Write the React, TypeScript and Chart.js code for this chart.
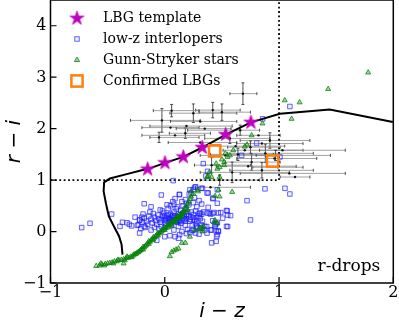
import React, { useEffect, useRef } from 'react';
import { Chart, registerables } from 'chart.js';

Chart.register(...registerables);

// ---------------- data ----------------
const xTicks = [-1, 0, 1, 2];
const yTicks = [-1, 0, 1, 2, 3, 4];

const legendLabels = ['LBG template', 'low-z interlopers', 'Gunn-Stryker stars', 'Confirmed LBGs'];

// LBG template (stars)
const templateX = [-0.15, 0.002, 0.162, 0.328, 0.533, 0.754];
const templateY = [1.213, 1.335, 1.451, 1.633, 1.884, 2.122];

// LBG template track (solid black curve)
const trackX = [-0.370, -0.378, -0.40, -0.44, -0.49, -0.515, -0.535, -0.531, -0.48, -0.333, -0.202, -0.15, 0.002, 0.162, 0.328, 0.533, 0.754, 1.007, 1.444, 1.996];
const trackY = [-0.45, -0.25, -0.09, 0.08, 0.30, 0.55, 0.78, 0.955, 1.03, 1.116, 1.193, 1.213, 1.335, 1.451, 1.633, 1.884, 2.122, 2.29, 2.37, 2.13];

// Selection box (dotted)
const cutHX = [-1, 1];
const cutHY = [1, 1];
const cutVX = [1, 1];
const cutVY = [1, 4.5];

// Confirmed LBGs
const lbgX = [0.437, 0.944];
const lbgY = [1.567, 1.367];

// Candidates with error bars
const candX = [0.684, -0.025, 0.25, 0.42, 0.50, 0.19, 0.05, 0.18, 0.31, -0.05, 0.09, 0.31, 0.66, 0.82, 0.92, 0.85, 0.75, 0.70, 0.88, 0.96, 0.76, 0.99, 0.85, 1.09, 1.14, 0.57, 0.53, 0.41, 0.59, 0.48, 1.03, 0.35, 0.06, 0.40, 0.64, 0.73, 0.62, 0.97];
const candY = [2.68, 2.16, 2.30, 2.36, 2.32, 2.05, 2.02, 1.91, 1.73, 1.83, 1.87, 2.14, 1.97, 1.87, 1.77, 1.71, 1.64, 1.58, 1.52, 1.42, 1.35, 1.25, 1.19, 1.13, 1.06, 1.81, 1.48, 1.29, 1.15, 1.00, 1.58, 2.00, 2.35, 0.86, 1.50, 1.27, 1.66, 1.48];
const candXLo = [0.570, -0.30, 0.045, 0.27, 0.30, -0.13, -0.20, 0.04, 0.03, -0.13, -0.20, 0.05, 0.20, 0.63, 0.66, 0.63, 0.55, 0.51, 0.55, 0.63, 0.53, 0.77, 0.57, 0.66, 1.01, 0.35, 0.31, 0.26, 0.31, 0.31, 0.83, 0.10, -0.10, 0.27, 0.40, 0.45, 0.38, 0.80];
const candXHi = [0.806, 0.31, 0.63, 0.66, 0.75, 0.59, 0.30, 0.40, 0.63, 0.30, 0.35, 0.63, 0.83, 1.01, 1.27, 1.21, 1.01, 1.21, 1.30, 1.33, 1.01, 1.21, 1.30, 1.58, 1.27, 0.92, 0.88, 0.75, 1.09, 0.83, 1.58, 0.58, 0.30, 0.75, 0.95, 1.15, 1.05, 1.45];
const candYErr = [0.21, 0.23, 0.18, 0.15, 0.16, 0, 0, 0.10, 0, 0.10, 0, 0, 0.10, 0, 0.15, 0, 0.12, 0, 0.18, 0, 0.16, 0, 0.15, 0, 0, 0.10, 0, 0.15, 0.20, 0.10, 0, 0, 0.12, 0, 0.12, 0, 0, 0.10];

// low-z interlopers [i-z, r-i]
const interlopers: [number, number][] = [
  [-0.727, 0.077], [-0.654, 0.16], [-0.465, 0.34], [-0.392, 0.10], [-0.37, 0.18], [-0.33, 0.17], [-0.31, 0.14], [-0.26, 0.28], [-0.29, 0.11], [-0.22, 0.23], [-0.23, 0.13], [-0.18, 0.10], [-0.20, 0.18],
  [0.074, 0.99], [0.337, 1.32], [0.375, 1.17], [0.36, 1.08], [0.264, 0.86], [0.33, 0.84], [0.38, 0.75], [0.425, 0.65], [0.877, 0.83], [1.052, 0.84], [1.095, 0.73], [0.72, 0.60], [0.75, 0.226], [0.804, 1.72], [0.673, 1.48], [0.857, 2.19], [1.095, 2.43], [1.008, 1.45],
  [0.323, 0.535], [0.323, 0.337], [0.40, 0.34], [0.42, 0.35], [0.468, 0.36], [0.49, 0.37], [0.547, 0.40], [0.576, 0.31], [0.507, 0.26], [0.42, 0.21], [0.45, 0.15], [0.46, 0.18], [0.367, 0.097], [0.468, 0.013], [0.454, -0.097], [0.41, -0.22], [0.55, 0.097], [0.54, 0.41], [0.55, 0.32], [0.54, 0.10], [0.41, 0.03], [0.45, 0.01], [0.44, 0.13],
  [0.33, 0.20], [0.35, 0.03], [0.30, -0.05], [0.38, 0.47], [0.46, 0.55], [0.42, 0.64],
  [-0.03, 0.71], [0.127, 0.72], [0.214, 0.73], [0.23, 0.75], [0.25, 0.82], [0.32, 0.84], [0.37, 0.75], [0.46, 0.81], [0.09, 0.64], [0.18, 0.62], [0.26, 0.66], [0.30, 0.60], [0.27, 0.87], [0.22, 0.81], [0.13, 0.72],
  [-0.18, 0.54], [-0.12, 0.48], [-0.04, 0.42], [0.02, 0.52], [0.05, 0.50], [0.08, 0.53], [0.11, 0.48], [0.07, 0.58], [0.15, 0.58], [0.16, 0.50], [0.19, 0.55], [0.21, 0.52], [0.25, 0.56], [0.28, 0.48], [0.27, 0.40], [0.23, 0.38], [0.30, 0.35], [0.34, 0.38], [0.39, 0.36], [0.43, 0.37], [0.31, 0.36], [0.37, 0.36],
  [-0.22, 0.22], [-0.20, 0.28], [-0.18, 0.26], [-0.16, 0.20], [-0.15, 0.14], [-0.14, 0.30], [-0.12, 0.24], [-0.11, 0.17], [-0.10, 0.35], [-0.09, 0.28], [-0.08, 0.21], [-0.07, 0.14], [-0.06, 0.32], [-0.05, 0.25], [-0.04, 0.18], [-0.03, 0.10], [-0.02, 0.29], [-0.01, 0.36], [0.00, 0.22], [0.01, 0.15], [0.02, 0.31], [0.03, 0.26], [0.04, 0.19], [0.05, 0.34], [0.06, 0.28], [0.07, 0.22], [0.08, 0.38], [0.09, 0.31], [0.10, 0.25], [0.11, 0.18], [0.12, 0.34], [0.13, 0.28], [0.14, 0.41], [0.15, 0.22], [0.16, 0.36], [0.17, 0.30], [0.18, 0.44], [0.19, 0.25], [0.20, 0.38], [0.21, 0.31], [0.22, 0.20], [0.23, 0.28], [0.24, 0.13], [0.25, 0.33], [0.26, 0.22], [0.27, 0.15], [0.28, 0.27], [0.29, 0.08], [0.31, 0.25], [0.32, 0.13],
  [-0.05, 0.05], [0.00, 0.08], [0.06, 0.12], [0.12, 0.10], [0.18, 0.12], [0.20, 0.04], [0.15, 0.00], [0.08, 0.03], [0.24, 0.02], [0.27, -0.03],
  [-0.07, -0.17], [-0.22, -0.03], [0.00, -0.10], [0.045, -0.08], [0.09, -0.10], [0.12, -0.13], [0.13, -0.06], [0.19, -0.04], [0.22, -0.02], [0.25, 0.03], [0.28, 0.10], [0.31, 0.07], [0.35, 0.10], [0.37, -0.03], [0.40, 0.03], [0.44, 0.10], [0.47, 0.00], [0.46, -0.06], [0.45, -0.19],
  [0.03, 0.45], [-0.02, 0.40], [0.10, 0.44], [-0.13, 0.38], [-0.19, 0.34], [-0.24, 0.12], [-0.21, 0.06], [-0.17, 0.08], [-0.12, 0.03], [-0.09, 0.08],
  [0.00, 0.30], [0.04, 0.24], [0.08, 0.27], [0.12, 0.22], [0.16, 0.26], [0.02, 0.20], [0.06, 0.17], [0.10, 0.20], [0.14, 0.16], [0.18, 0.20], [-0.03, 0.23], [0.01, 0.26], [0.05, 0.22], [0.09, 0.23], [0.13, 0.20], [0.17, 0.23], [0.11, 0.29], [0.07, 0.31], [0.03, 0.33], [0.15, 0.32], [0.19, 0.34], [0.22, 0.24], [0.25, 0.27], [0.28, 0.20], [0.30, 0.30],
];

// Gunn-Stryker stars [i-z, r-i]
const gsStars: [number, number][] = [
  [-0.60, -0.67], [-0.57, -0.66], [-0.55, -0.64], [-0.52, -0.63], [-0.50, -0.62], [-0.48, -0.61], [-0.46, -0.60], [-0.44, -0.58], [-0.42, -0.58], [-0.40, -0.56], [-0.38, -0.55], [-0.36, -0.54], [-0.34, -0.52], [-0.32, -0.51], [-0.30, -0.49], [-0.28, -0.47], [-0.27, -0.45], [-0.25, -0.43], [-0.24, -0.41], [-0.22, -0.38], [-0.21, -0.36], [-0.20, -0.34], [-0.18, -0.31], [-0.17, -0.28], [-0.16, -0.26], [-0.15, -0.23], [-0.13, -0.20], [-0.12, -0.17], [-0.11, -0.15], [-0.09, -0.12], [-0.08, -0.09], [-0.07, -0.07], [-0.05, -0.04], [-0.04, -0.01], [-0.02, 0.02], [-0.01, 0.04], [0.01, 0.07], [0.02, 0.10], [0.04, 0.13], [0.05, 0.15], [0.07, 0.18], [0.08, 0.21], [0.10, 0.24], [0.11, 0.27], [0.13, 0.30], [0.14, 0.33], [0.16, 0.37], [0.17, 0.41], [0.18, 0.45], [0.19, 0.49], [0.20, 0.54], [0.21, 0.58], [0.22, 0.63], [0.23, 0.68], [0.25, 0.73],
  [-0.53, -0.66], [-0.45, -0.62], [-0.41, -0.55], [-0.35, -0.56], [-0.33, -0.49], [-0.29, -0.50], [-0.26, -0.44], [-0.23, -0.40], [-0.19, -0.35], [-0.19, -0.30], [-0.14, -0.24], [-0.14, -0.19], [-0.10, -0.16], [-0.10, -0.11], [-0.06, -0.08], [-0.06, -0.03], [-0.03, 0.00], [0.00, 0.03], [0.00, 0.08], [0.03, 0.08], [0.03, 0.14], [0.06, 0.12], [0.06, 0.19], [0.09, 0.19], [0.09, 0.25], [0.12, 0.25], [0.12, 0.32], [0.15, 0.29], [0.15, 0.36], [0.18, 0.38], [0.20, 0.42], [-0.36, -0.62], [-0.56, -0.62],
  [0.045, -0.48], [0.06, -0.40], [0.08, -0.37], [0.10, -0.35], [0.12, -0.33], [0.15, -0.22], [0.18, -0.22], [0.22, -0.10], [0.30, 0.05], [0.32, 0.08], [0.34, 0.10], [0.43, 0.18], [0.44, 0.22], [0.26, 0.03], [0.33, 0.00], [0.46, 0.16], [0.33, 0.05],
  [0.47, 0.81], [0.59, 0.77], [0.44, 0.69], [0.48, 0.68], [0.29, 0.78], [0.23, 0.78], [0.29, 0.81], [0.38, 1.08], [0.41, 1.06], [0.45, 1.32], [0.52, 1.29], [0.37, 1.06], [0.48, 1.06], [0.48, 1.25], [0.46, 1.22], [0.57, 1.48], [0.60, 1.58], [0.55, 1.45], [0.72, 1.69], [0.70, 1.65], [0.76, 1.87], [0.855, 2.10], [1.11, 2.19], [1.05, 2.55], [1.18, 2.51], [1.43, 2.77], [1.78, 3.09], [0.50, 1.40], [0.53, 1.52], [0.52, 1.35], [0.39, 1.15],
];

// ---------------- styles ----------------
const MAGENTA = '#bf00bf';
const ORANGE = '#ff7f0e';
const BLUE_EDGE = 'rgba(20,20,255,0.65)';
const BLUE_FILL = 'rgba(60,60,255,0.08)';
const GREEN_EDGE = 'rgba(0,128,0,0.75)';
const GREEN_FILL = 'rgba(0,128,0,0.35)';
const SERIF = '"DejaVu Serif", serif';

const fmtTick = (v: number | string) => {
  const n = Number(v);
  return n < 0 ? '\u2212' + Math.abs(n) : String(n);
};

function makeStar(R: number): HTMLCanvasElement {
  const size = Math.ceil(2 * R + 2);
  const c = document.createElement('canvas');
  c.width = size;
  c.height = size;
  const g = c.getContext('2d')!;
  const cx = size / 2, cy = size / 2;
  const r = R * 0.382;
  g.beginPath();
  for (let i = 0; i < 10; i++) {
    const a = -Math.PI / 2 + (i * Math.PI) / 5;
    const rad = i % 2 === 0 ? R : r;
    g.lineTo(cx + rad * Math.cos(a), cy + rad * Math.sin(a));
  }
  g.closePath();
  g.fillStyle = MAGENTA;
  g.fill();
  g.strokeStyle = MAGENTA;
  g.lineWidth = 0.8;
  g.stroke();
  return c;
}

export default function App() {
  const ref = useRef<HTMLCanvasElement>(null);

  useEffect(() => {
    const star = makeStar(7.4);

    const errorBars = {
      id: 'errorBars',
      beforeDatasetsDraw(chart: any) {
        const { ctx, chartArea, scales } = chart;
        const xs = scales.x, ys = scales.y;
        ctx.save();
        ctx.beginPath();
        ctx.rect(chartArea.left, chartArea.top, chartArea.right - chartArea.left, chartArea.bottom - chartArea.top);
        ctx.clip();
        for (let i = 0; i < candX.length; i++) {
          const py = ys.getPixelForValue(candY[i]);
          const px = xs.getPixelForValue(candX[i]);
          const x0 = xs.getPixelForValue(candXLo[i]);
          const x1 = xs.getPixelForValue(candXHi[i]);
          ctx.strokeStyle = 'rgba(130,130,130,0.75)';
          ctx.lineWidth = 1;
          ctx.beginPath();
          ctx.moveTo(x0, py);
          ctx.lineTo(x1, py);
          ctx.stroke();
          ctx.strokeStyle = 'rgba(40,40,40,0.8)';
          ctx.beginPath();
          ctx.moveTo(x0, py - 1.5);
          ctx.lineTo(x0, py + 1.5);
          ctx.moveTo(x1, py - 1.5);
          ctx.lineTo(x1, py + 1.5);
          ctx.stroke();
          if (candYErr[i] > 0) {
            const y0 = ys.getPixelForValue(candY[i] - candYErr[i]);
            const y1 = ys.getPixelForValue(candY[i] + candYErr[i]);
            ctx.strokeStyle = 'rgba(50,50,50,0.85)';
            ctx.beginPath();
            ctx.moveTo(px, y0);
            ctx.lineTo(px, y1);
            ctx.moveTo(px - 1.5, y0);
            ctx.lineTo(px + 1.5, y0);
            ctx.moveTo(px - 1.5, y1);
            ctx.lineTo(px + 1.5, y1);
            ctx.stroke();
          }
        }
        ctx.restore();
      },
    };

    const frame = {
      id: 'frame',
      afterDraw(chart: any) {
        const { ctx, chartArea, scales } = chart;
        const { left, right, top, bottom } = chartArea;
        ctx.save();
        ctx.strokeStyle = '#000';
        ctx.lineWidth = 1.5;
        ctx.strokeRect(left, top, right - left, bottom - top);
        ctx.lineWidth = 1.2;
        ctx.beginPath();
        for (const v of xTicks) {
          const px = scales.x.getPixelForValue(v);
          ctx.moveTo(px, bottom);
          ctx.lineTo(px, bottom - 6);
        }
        for (const v of yTicks) {
          const py = scales.y.getPixelForValue(v);
          ctx.moveTo(left, py);
          ctx.lineTo(left + 6, py);
        }
        ctx.stroke();

        // tick labels
        ctx.font = '16px ' + SERIF;
        ctx.fillStyle = '#000';
        ctx.textBaseline = 'middle';
        ctx.textAlign = 'center';
        for (const v of xTicks) {
          ctx.fillText(fmtTick(v), scales.x.getPixelForValue(v), bottom + 10);
        }
        ctx.textAlign = 'right';
        for (const v of yTicks) {
          ctx.fillText(fmtTick(v), left - 4, scales.y.getPixelForValue(v) + 0.5);
        }

        // legend (no frame), top-left inside axes
        const rows = [18.3, 39, 60, 81];
        const mx = 77, tx = 103;
        ctx.font = '14px ' + SERIF;
        ctx.fillStyle = '#000';
        ctx.textBaseline = 'middle';
        ctx.textAlign = 'left';
        legendLabels.forEach((t, i) => ctx.fillText(t, tx, rows[i] + 0.5));
        ctx.drawImage(star, mx - star.width / 2, rows[0] - star.height / 2);
        ctx.lineWidth = 1;
        ctx.strokeStyle = BLUE_EDGE;
        ctx.fillStyle = BLUE_FILL;
        ctx.fillRect(mx - 2.25, rows[1] - 2.25, 4.5, 4.5);
        ctx.strokeRect(mx - 2.25, rows[1] - 2.25, 4.5, 4.5);
        ctx.beginPath();
        ctx.moveTo(mx, rows[2] - 3);
        ctx.lineTo(mx + 2.6, rows[2] + 1.5);
        ctx.lineTo(mx - 2.6, rows[2] + 1.5);
        ctx.closePath();
        ctx.fillStyle = GREEN_FILL;
        ctx.strokeStyle = GREEN_EDGE;
        ctx.fill();
        ctx.stroke();
        ctx.lineWidth = 2.5;
        ctx.strokeStyle = ORANGE;
        ctx.strokeRect(mx - 5.6, rows[3] - 5.6, 11.2, 11.2);

        // panel label
        ctx.font = '17px ' + SERIF;
        ctx.fillStyle = '#000';
        ctx.textAlign = 'right';
        ctx.textBaseline = 'alphabetic';
        ctx.fillText('r-drops', right - 13, bottom - 12);
        ctx.restore();
      },
    };

    const pts = (xs: number[], ys: number[]) => xs.map((x, i) => ({ x, y: ys[i] }));

    const chart = new Chart(ref.current!, {
      type: 'scatter',
      data: {
        datasets: [
          {
            label: legendLabels[3],
            data: pts(lbgX, lbgY),
            pointStyle: 'rect',
            pointRadius: 8,
            borderWidth: 2.5,
            borderColor: ORANGE,
            backgroundColor: 'rgba(0,0,0,0)',
            order: 0,
          },
          {
            label: legendLabels[0],
            data: pts(templateX, templateY),
            pointStyle: star as any,
            pointRadius: 8,
            order: 1,
          },
          {
            label: 'track',
            data: pts(trackX, trackY),
            showLine: true,
            pointRadius: 0,
            borderColor: '#000',
            borderWidth: 2,
            order: 2,
          },
          {
            label: legendLabels[2],
            data: gsStars.map(([x, y]) => ({ x, y })),
            pointStyle: 'triangle',
            pointRadius: 2.9,
            borderWidth: 1,
            borderColor: GREEN_EDGE,
            backgroundColor: GREEN_FILL,
            order: 3,
          },
          {
            label: legendLabels[1],
            data: interlopers.map(([x, y]) => ({ x, y })),
            pointStyle: 'rect',
            pointRadius: 3.2,
            borderWidth: 1,
            borderColor: BLUE_EDGE,
            backgroundColor: BLUE_FILL,
            order: 4,
          },
          {
            label: 'candidates',
            data: pts(candX, candY),
            pointRadius: 1.2,
            borderWidth: 0,
            backgroundColor: '#111',
            order: 5,
          },
          {
            label: 'cutH',
            data: pts(cutHX, cutHY),
            showLine: true,
            pointRadius: 0,
            borderColor: '#000',
            borderWidth: 1.8,
            borderDash: [1.8, 2.6],
            order: 6,
          },
          {
            label: 'cutV',
            data: pts(cutVX, cutVY),
            showLine: true,
            pointRadius: 0,
            borderColor: '#000',
            borderWidth: 1.8,
            borderDash: [1.8, 2.6],
            order: 6,
          },
        ],
      },
      options: {
        animation: false,
        responsive: false,
        devicePixelRatio: 1,
        layout: { autoPadding: false, padding: { top: 0, right: 5.7, bottom: 0, left: 0 } },
        plugins: { legend: { display: false }, tooltip: { enabled: false } },
        scales: {
          x: {
            type: 'linear',
            min: -1,
            max: 2,
            afterBuildTicks: (s: any) => {
              s.ticks = xTicks.map((value) => ({ value }));
            },
            afterFit: (s: any) => {
              s.height = 43;
            },
            grid: { display: false, drawTicks: false },
            border: { display: false },
            ticks: { display: false },
            title: {
              display: true,
              text: 'i \u2212 z',
              color: '#000',
              font: { family: '"DejaVu Sans", sans-serif', size: 20, style: 'italic' },
              padding: { top: 0, bottom: 2 },
            },
          },
          y: {
            type: 'linear',
            min: -1,
            max: 4.5,
            afterBuildTicks: (s: any) => {
              s.ticks = yTicks.map((value) => ({ value }));
            },
            afterFit: (s: any) => {
              s.width = 50.5;
            },
            grid: { display: false, drawTicks: false },
            border: { display: false },
            ticks: { display: false },
            title: {
              display: true,
              text: 'r \u2212 i',
              color: '#000',
              font: { family: '"DejaVu Sans", sans-serif', size: 20, style: 'italic' },
              padding: { top: 3, bottom: 0 },
            },
          },
        },
      },
      plugins: [errorBars, frame],
    } as any);

    return () => chart.destroy();
  }, []);

  return (
    <div style={{ position: 'fixed', left: 0, top: 0, width: 399, height: 326, background: '#fff' }}>
      <canvas ref={ref} width={399} height={326} style={{ display: 'block' }} />
    </div>
  );
}
